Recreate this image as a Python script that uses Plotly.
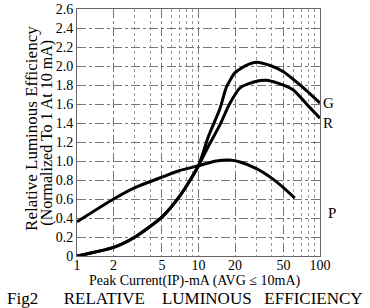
import plotly.graph_objects as go

# Data
g_x = [1, 2, 3, 5, 7, 10, 12, 15, 17, 20, 25, 30, 40, 50, 70, 100]
g_y = [0.0, 0.09, 0.2, 0.41, 0.63, 0.95, 1.25, 1.55, 1.78, 1.93, 2.01, 2.04, 2.0, 1.94, 1.79, 1.61]

r_x = [1, 2, 3, 5, 7, 10, 12, 15, 18, 22, 30, 36, 45, 60, 80, 100]
r_y = [0.0, 0.09, 0.2, 0.41, 0.63, 0.95, 1.15, 1.38, 1.6, 1.77, 1.84, 1.85, 1.82, 1.75, 1.58, 1.45]

p_x = [1, 2, 3, 5, 7, 10, 14, 18, 22, 30, 40, 50, 62]
p_y = [0.36, 0.6, 0.72, 0.83, 0.9, 0.95, 1.0, 1.01, 0.99, 0.92, 0.82, 0.72, 0.61]

x_ticks = [1, 2, 5, 10, 20, 50, 100]
x_minor = [3, 4, 6, 7, 8, 9, 30, 40, 60, 70, 80, 90]
y_ticks = [0, 0.2, 0.4, 0.6, 0.8, 1.0, 1.2, 1.4, 1.6, 1.8, 2.0, 2.2, 2.4, 2.6]
y_labels = ["0", "0.2", "0.4", "0.6", "0.8", "1.0", "1.2", "1.4", "1.6", "1.8", "2.0", "2.2", "2.4", "2.6"]

FONT = "Liberation Serif"
NB = "\u00a0"

fig = go.Figure()
for xs, ys in [(g_x, g_y), (r_x, r_y), (p_x, p_y)]:
    fig.add_trace(go.Scatter(x=xs, y=ys, mode="lines",
                             line=dict(color="black", width=3, shape="spline", smoothing=0.6),
                             showlegend=False, hoverinfo="skip"))

# curve labels
for name, yv, xs in [("G", 1.61, 1), ("R", 1.40, 1), ("P", 0.45, 6)]:
    fig.add_annotation(x=2, y=yv, xref="x", yref="y", text=name, showarrow=False,
                       xanchor="left", xshift=xs,
                       font=dict(family=FONT, size=15, color="black"))

fig.add_annotation(x=-0.19, y=0.518, xref="paper", yref="paper", xanchor="center",
                   text="Relative Luminous Efficiency", textangle=-90, showarrow=False,
                   font=dict(family=FONT, size=17, color="black"))
fig.add_annotation(x=-0.127, y=0.5, xref="paper", yref="paper", xanchor="center",
                   text="(Normalized To 1 At 10 mA)", textangle=-90, showarrow=False,
                   font=dict(family=FONT, size=16, color="black"))
fig.add_annotation(x=0.485, y=-0.1, xref="paper", yref="paper", yanchor="middle",
                   text="Peak Current(IP)-mA (AVG ≤ 10mA)", showarrow=False,
                   font=dict(family=FONT, size=14, color="black"))
fig.add_annotation(x=0.444, y=-0.172, xref="paper", yref="paper", xanchor="center", yanchor="middle",
                   text="Fig2" + NB * 6 + "RELATIVE" + NB * 4 + "LUMINOUS" + NB * 3 + "EFFICIENCY",
                   showarrow=False,
                   font=dict(family=FONT, size=17, color="black"))

fig.update_layout(
    width=370, height=308,
    margin=dict(l=77, r=50, t=9, b=52),
    paper_bgcolor="white", plot_bgcolor="white",
    font=dict(family=FONT, size=14, color="black"),
)

fig.update_xaxes(type="log", range=[0, 2], tickvals=x_ticks, ticktext=[str(v) for v in x_ticks],
                 showgrid=True, gridcolor="#777", griddash="dashdot", gridwidth=1,
                 minor=dict(tickvals=x_minor, showgrid=True, gridcolor="#999", griddash="dot", gridwidth=1),
                 showline=True, linecolor="#666", linewidth=1, mirror=True, automargin=False,
                 ticks="", zeroline=False, ticklabelstandoff=-4, ticklabeloverflow="allow",
                 tickfont=dict(family=FONT, size=14))
fig.update_yaxes(range=[0, 2.6], tickvals=y_ticks, ticktext=y_labels,
                 showgrid=True, gridcolor="#777", griddash="dashdot", gridwidth=1,
                 showline=True, linecolor="#666", linewidth=1, mirror=True, automargin=False,
                 ticks="", zeroline=False, ticklabeloverflow="allow",
                 tickfont=dict(family=FONT, size=14))

# remove the browser's default 8px body margin so the figure sits at the page corner
fig.write_html("out.html", config={"displayModeBar": False},
               post_script="document.body.style.margin='0';")
